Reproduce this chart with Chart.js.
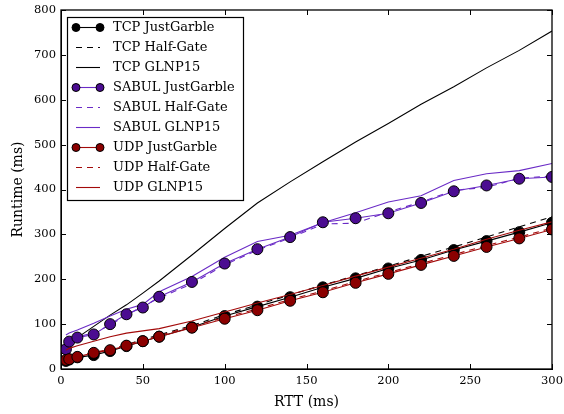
<!DOCTYPE html>
<html>
<head>
<meta charset="utf-8">
<script src="https://cdn.jsdelivr.net/npm/chart.js@4.4.1/dist/chart.umd.min.js"></script>
<style>
  html, body { margin: 0; padding: 0; background: #fff; }
  #wrap { width: 564px; height: 414px; }
</style>
</head>
<body>
<div id="wrap"><canvas id="runtime"></canvas></div>
<script>
// RTT values (ms)
var rtt = [3, 5, 10, 20, 30, 40, 50, 60, 80, 100, 120, 140, 160, 180, 200, 220, 240, 260, 280, 300];

// runtimes (ms)
var tcpJustGarble = [18, 21, 26, 31, 40, 51, 62, 72, 93, 118, 139, 160, 182, 202, 224, 243, 265, 285, 305, 326];
var tcpHalfGate = [20, 23, 28, 35, 43, 54, 66, 76, 97, 121, 143, 165, 187, 208, 229, 251, 272, 294, 317, 339];
var tcpGLNP15 = [47, 57, 70, 95, 120, 143, 169, 196, 254, 313, 370, 417, 462, 506, 547, 590, 629, 671, 710, 753];

var sabulJustGarble = [44, 61, 70, 77, 100, 122, 137, 161, 194, 235, 267, 294, 327, 336, 347, 370, 396, 409, 424, 428];
var sabulHalfGate = [45, 60, 72, 80, 98, 120, 140, 158, 190, 232, 265, 292, 323, 325, 350, 372, 398, 405, 425, 430];
var sabulGLNP15 = [76, 80, 87, 102, 118, 133, 144, 172, 206, 249, 284, 298, 326, 348, 372, 386, 420, 435, 442, 458];

var udpJustGarble = [20, 22, 27, 36, 42, 52, 62, 72, 92, 112, 131, 152, 171, 192, 212, 232, 252, 272, 291, 311];
var udpHalfGate = [21, 24, 29, 37, 44, 54, 64, 74, 95, 115, 134, 155, 174, 195, 215, 235, 255, 275, 294, 314];
var udpGLNP15 = [42, 46, 52, 62, 72, 80, 85, 90, 107, 127, 147, 166, 186, 207, 227, 247, 267, 289, 309, 328];

var serif = "'DejaVu Serif', serif";

function pts(arr) {
  return rtt.map(function(x, i) { return { x: x, y: arr[i] }; });
}

function series(label, arr, color, fill, kind, order) {
  var ds = {
    label: label,
    data: pts(arr),
    borderColor: color,
    backgroundColor: fill,
    borderWidth: 1.1,
    showLine: true,
    tension: 0,
    fill: false,
    order: order,
    pointRadius: 0,
    pointBorderColor: '#000',
    pointBackgroundColor: fill,
    pointBorderWidth: 1
  };
  if (kind === 'marker') { ds.pointRadius = 5.5; }
  if (kind === 'dash') { ds.borderDash = [6, 5]; }
  return ds;
}

var purpleLine = '#6a2bc6';
var purpleDot = '#4b0c91';
var redLine = '#a30a0a';
var redDot = '#8b0000';

var datasets = [
  series('TCP JustGarble', tcpJustGarble, '#000', '#000', 'marker', 6),
  series('TCP Half-Gate', tcpHalfGate, '#000', '#000', 'dash', 7),
  series('TCP GLNP15', tcpGLNP15, '#000', '#000', 'solid', 8),
  series('SABUL JustGarble', sabulJustGarble, purpleLine, purpleDot, 'marker', 3),
  series('SABUL Half-Gate', sabulHalfGate, purpleLine, purpleDot, 'dash', 4),
  series('SABUL GLNP15', sabulGLNP15, purpleLine, purpleDot, 'solid', 5),
  series('UDP JustGarble', udpJustGarble, redLine, redDot, 'marker', 0),
  series('UDP Half-Gate', udpHalfGate, redLine, redDot, 'dash', 1),
  series('UDP GLNP15', udpGLNP15, redLine, redDot, 'solid', 2)
];

// inward ticks on all four sides, frame and boxed legend
var frame = {
  id: 'frame',
  afterDatasetsDraw: function(chart) {
    var ctx = chart.ctx;
    var a = chart.chartArea;
    var xs = chart.scales.x, ys = chart.scales.y;
    ctx.save();
    ctx.strokeStyle = '#000';
    ctx.lineWidth = 1;
    ctx.beginPath();
    xs.ticks.forEach(function(t) {
      var px = Math.round(xs.getPixelForValue(t.value)) + 0.5;
      ctx.moveTo(px, a.bottom); ctx.lineTo(px, a.bottom - 5);
      ctx.moveTo(px, a.top); ctx.lineTo(px, a.top + 5);
    });
    ys.ticks.forEach(function(t) {
      var py = Math.round(ys.getPixelForValue(t.value)) + 0.5;
      ctx.moveTo(a.left, py); ctx.lineTo(a.left + 5, py);
      ctx.moveTo(a.right, py); ctx.lineTo(a.right - 5, py);
    });
    ctx.stroke();
    ctx.lineWidth = 1.3;
    ctx.strokeRect(a.left, a.top, a.right - a.left, a.bottom - a.top);

    // legend
    var lx = a.left + 6, ly = a.top + 7, lw = 176, lh = 183;
    ctx.fillStyle = '#fff';
    ctx.fillRect(lx, ly, lw, lh);
    ctx.lineWidth = 1.2;
    ctx.strokeStyle = '#000';
    ctx.strokeRect(lx + 0.5, ly + 0.5, lw, lh);
    ctx.font = '13px ' + serif;
    ctx.textBaseline = 'middle';
    chart.data.datasets.forEach(function(ds, i) {
      var y = ly + 10 + i * 20;
      var x0 = lx + 9, x1 = lx + 33;
      ctx.strokeStyle = ds.borderColor;
      ctx.lineWidth = 1.1;
      ctx.setLineDash(ds.borderDash || []);
      ctx.beginPath();
      ctx.moveTo(x0, y + 0.5); ctx.lineTo(x1, y + 0.5);
      ctx.stroke();
      ctx.setLineDash([]);
      if (ds.pointRadius > 0) {
        [x0, x1].forEach(function(cx) {
          ctx.beginPath();
          ctx.arc(cx, y + 0.5, 4, 0, Math.PI * 2);
          ctx.fillStyle = ds.pointBackgroundColor;
          ctx.fill();
          ctx.strokeStyle = '#000';
          ctx.lineWidth = 1;
          ctx.stroke();
        });
      }
      ctx.fillStyle = '#000';
      ctx.fillText(ds.label, lx + 46, y + 1);
    });
    ctx.restore();
  }
};

var ctx = document.getElementById('runtime').getContext('2d');
var config = {
  type: 'scatter',
  data: { datasets: datasets },
  options: {
    responsive: true,
    maintainAspectRatio: false,
    animation: false,
    layout: { padding: { top: 10, right: 12, left: 0, bottom: 0 } },
    plugins: {
      legend: { display: false },
      tooltip: { enabled: false }
    },
    scales: {
      x: {
        type: 'linear',
        min: 0,
        max: 300,
        afterFit: function(scale) {
          scale.height = 45;
          scale.paddingLeft = 0;
          scale.paddingRight = 0;
        },
        grid: { display: false, drawTicks: false },
        border: { display: true, color: '#000', width: 1 },
        ticks: {
          stepSize: 50,
          padding: 5,
          color: '#000',
          maxRotation: 0,
          font: { family: serif, size: 11.5 }
        },
        title: {
          display: true,
          text: 'RTT (ms)',
          color: '#000',
          padding: { top: 0, bottom: 3 },
          font: { family: serif, size: 14 }
        }
      },
      y: {
        type: 'linear',
        min: 0,
        max: 800,
        afterFit: function(scale) {
          scale.width = 61;
          scale.paddingTop = 0;
          scale.paddingBottom = 0;
        },
        grid: { display: false, drawTicks: false },
        border: { display: true, color: '#000', width: 1 },
        ticks: {
          stepSize: 100,
          padding: 5,
          color: '#000',
          font: { family: serif, size: 11.5 }
        },
        title: {
          display: true,
          text: 'Runtime (ms)',
          color: '#000',
          padding: { top: 10, bottom: 0 },
          font: { family: serif, size: 14 }
        }
      }
    }
  },
  plugins: [frame]
};

var myChart = new Chart(ctx, config);
</script>
</body>
</html>
